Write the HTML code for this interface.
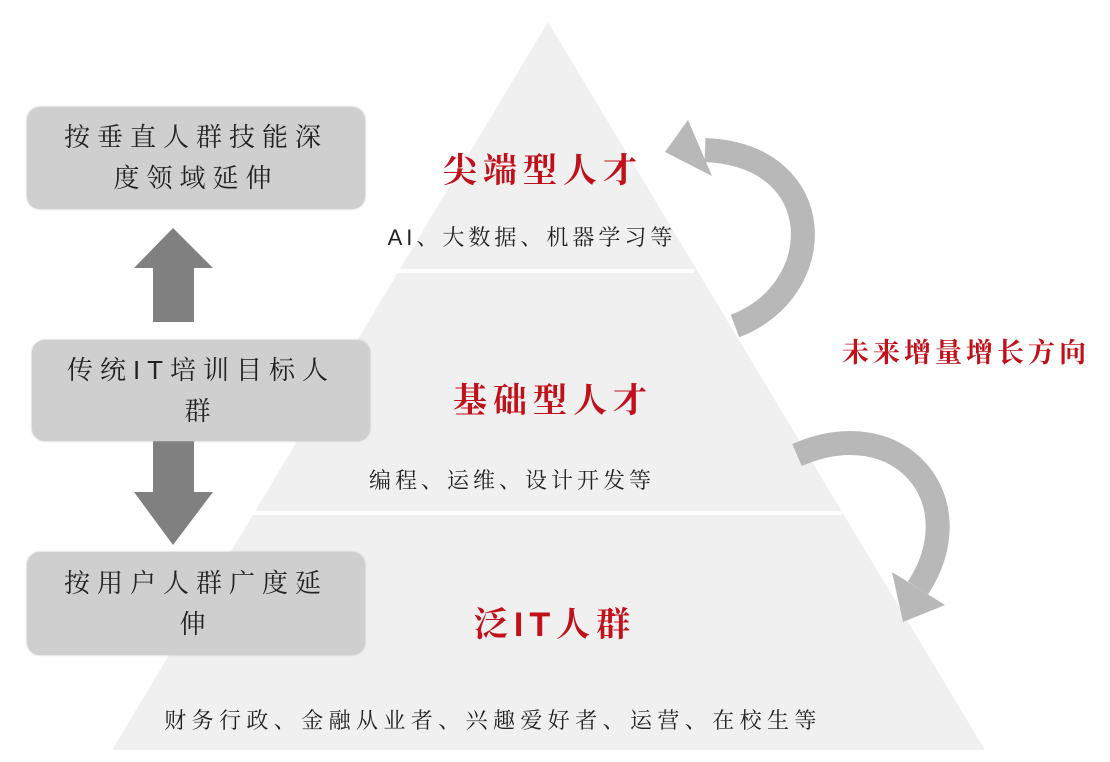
<!DOCTYPE html>
<html><head><meta charset="utf-8"><style>
body{margin:0;width:1110px;height:762px;background:#fff;overflow:hidden;position:relative;font-family:"Liberation Sans","Noto Serif CJK SC","Noto Sans CJK SC",serif;}
.box{position:absolute;background:#d0cfd0;border-radius:13px;display:flex;align-items:center;justify-content:center;text-align:center;font-size:26px;color:#222;letter-spacing:7px;line-height:41px;box-shadow:0 0 2px #bbb;}
.t{position:absolute;white-space:nowrap;transform:translateX(-50%);}
.red{color:#c0101a;font-weight:bold;font-size:34px;letter-spacing:6px;}
.g{font-size:22px;color:#222;letter-spacing:4px;}
</style></head><body>
<svg width="1110" height="762" style="position:absolute;left:0;top:0">
<polygon points="548,22 985,750 112,750" fill="#f0f0f0"/>
<line x1="380" y1="271" x2="694" y2="271" stroke="#fff" stroke-width="4"/>
<line x1="230" y1="513" x2="842" y2="513" stroke="#fff" stroke-width="4"/>
<polygon points="173,228 213,268 194,268 194,322 153,322 153,268 134,268" fill="#808080"/>
<polygon points="153,440 194,440 194,492 213,492 173,545 134,492 153,492" fill="#808080"/>
<path d="M735,326 C830,290 830,155 705,150" fill="none" stroke="#b8b8b8" stroke-width="24"/>
<polygon points="688,120 665,152 712,176" fill="#b8b8b8"/>
<path d="M797,455 C900,410 975,500 918,588" fill="none" stroke="#b8b8b8" stroke-width="24"/>
<polygon points="892,572 903,622 945,605" fill="#b8b8b8"/>
</svg>
<div class="box" style="left:27px;top:107px;width:338px;height:102px;">按垂直人群技能深<br>度领域延伸</div>
<div class="box" style="left:32px;top:340px;width:338px;height:101px;">传统IT培训目标人<br>群</div>
<div class="box" style="left:27px;top:552px;width:338px;height:103px;">按用户人群广度延<br>伸</div>
<div class="t red" style="left:543px;top:143px;">尖端型人才</div>
<div class="t g" style="left:532px;top:221px;">AI、大数据、机器学习等</div>
<div class="t red" style="left:553px;top:373px;">基础型人才</div>
<div class="t g" style="left:512px;top:464px;">编程、运维、设计开发等</div>
<div class="t red" style="left:555px;top:597px;">泛IT人群</div>
<div class="t g" style="left:493px;top:704px;letter-spacing:5.4px;">财务行政、金融从业者、兴趣爱好者、运营、在校生等</div>
<div class="t" style="left:966px;top:331px;color:#c0101a;font-weight:bold;font-size:27px;letter-spacing:4px;">未来增量增长方向</div>
</body></html>
